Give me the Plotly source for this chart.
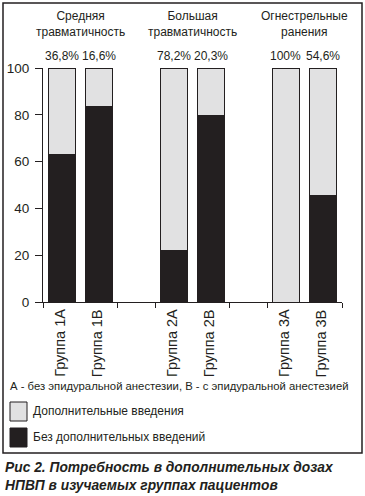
import plotly.graph_objects as go

# ---- data ----
groups = ["Группа 1A", "Группа 1B", "Группа 2A", "Группа 2B", "Группа 3A", "Группа 3B"]
slots = [0, 1, 3, 4, 6, 7]
extra_pct_labels = ["36,8%", "16,6%", "78,2%", "20,3%", "100%", "54,6%"]
extra = [36.8, 16.6, 78.2, 20.3, 100.0, 54.6]          # Дополнительные введения
no_extra = [63.2, 83.4, 21.8, 79.7, 0.0, 45.4]          # Без дополнительных введений
group_titles = ["Средняя<br>травматичность", "Большая<br>травматичность", "Огнестрельные<br>ранения"]
group_centers = [0.5, 3.5, 6.5]
y_ticks = [0, 20, 40, 60, 80, 100]
boundary_ticks = [-0.5, 1.5, 2.5, 4.5, 5.5, 7.5]

W, H = 365, 496
L, T, R, B = 43, 68, 342, 302
PW, PH = R - L, B - T

def px(x):
    return (x - L) / PW

def py(y):
    return (B - y) / PH

FAM = "Liberation Sans, Arial, sans-serif"
INK = "#231f20"
LIGHT = "#e1e1e2"

fig = go.Figure()
fig.add_trace(go.Bar(x=slots, y=no_extra, name="Без дополнительных введений",
                     marker=dict(color=INK, line=dict(color=INK, width=[0 if v == 0 else 1 for v in no_extra])),
                     width=0.72))
fig.add_trace(go.Bar(x=slots, y=extra, name="Дополнительные введения",
                     marker=dict(color=LIGHT, line=dict(color=INK, width=1)), width=0.72))

fig.update_layout(
    width=W, height=H, barmode="stack", showlegend=False,
    margin=dict(l=L, r=W - R, t=T, b=H - B, pad=0, autoexpand=False),
    plot_bgcolor="white", paper_bgcolor="white",
    font=dict(family=FAM, size=12, color=INK),
    bargap=0,
)
fig.update_xaxes(range=[-0.5, 7.5], tickmode="array", tickvals=boundary_ticks,
                 showticklabels=False, ticks="outside", ticklen=5, tickcolor=INK,
                 tickwidth=1, showline=True, linecolor=INK, linewidth=1, automargin=False,
                 showgrid=False, zeroline=False, fixedrange=True)
fig.update_yaxes(range=[0, 100], tickmode="array", tickvals=y_ticks,
                 ticks="outside", ticklen=7, tickcolor=INK, tickwidth=1,
                 showline=True, linecolor=INK, linewidth=1, showgrid=False,
                 ticklabelstandoff=3, automargin=False,
                 zeroline=False, fixedrange=True, tickfont=dict(family=FAM, size=13.5, color=INK))

FS = 12
ann = []
for c, t in zip(group_centers, group_titles):
    ann.append(dict(x=c, xref="x", y=py(24), yref="paper", text=t, showarrow=False,
                    xanchor="center", yanchor="middle", font=dict(size=FS, family=FAM, color=INK)))
for s, t in zip(slots, extra_pct_labels):
    ann.append(dict(x=s, xref="x", y=py(56), yref="paper", text=t, showarrow=False,
                    xanchor="center", yanchor="middle", font=dict(size=FS, family=FAM, color=INK)))
for s, g in zip(slots, groups):
    ann.append(dict(x=s - 0.05, xref="x", y=py(307), yref="paper", text=g, showarrow=False,
                    textangle=-90, xanchor="center", yanchor="top",
                    font=dict(size=14.5, family=FAM, color=INK)))
ann.append(dict(x=px(8), y=py(386), xref="paper", yref="paper",
                text="А - без эпидуральной анестезии, В - с эпидуральной анестезией",
                showarrow=False, xanchor="left", yanchor="middle",
                font=dict(size=11.3, family=FAM, color=INK)))
ann.append(dict(x=px(31), y=py(411), xref="paper", yref="paper", text="Дополнительные введения",
                showarrow=False, xanchor="left", yanchor="middle",
                font=dict(size=FS, family=FAM, color=INK)))
ann.append(dict(x=px(31), y=py(437), xref="paper", yref="paper", text="Без дополнительных введений",
                showarrow=False, xanchor="left", yanchor="middle",
                font=dict(size=FS, family=FAM, color=INK)))
ann.append(dict(x=px(3), y=py(476), xref="paper", yref="paper",
                text="<b><i>Рис 2. Потребность в дополнительных дозах<br>НПВП в изучаемых группах пациентов</i></b>",
                showarrow=False, xanchor="left", yanchor="middle", align="left",
                font=dict(size=13.8, family=FAM, color=INK)))
fig.update_layout(annotations=ann)

shapes = [
    dict(type="rect", xref="paper", yref="paper", x0=px(3), x1=px(362), y0=py(3), y1=py(453),
         line=dict(color=INK, width=1.5), fillcolor="rgba(0,0,0,0)", layer="below"),
    dict(type="rect", xref="paper", yref="paper", x0=px(10), x1=px(27), y0=py(402), y1=py(421),
         line=dict(color=INK, width=1), fillcolor=LIGHT),
    dict(type="rect", xref="paper", yref="paper", x0=px(10), x1=px(27), y0=py(428), y1=py(447),
         line=dict(color=INK, width=1), fillcolor=INK),
]
fig.update_layout(shapes=shapes)

fig.write_html("out.html", config={"displayModeBar": False, "staticPlot": True},
               post_script="document.body.style.margin='0';")
